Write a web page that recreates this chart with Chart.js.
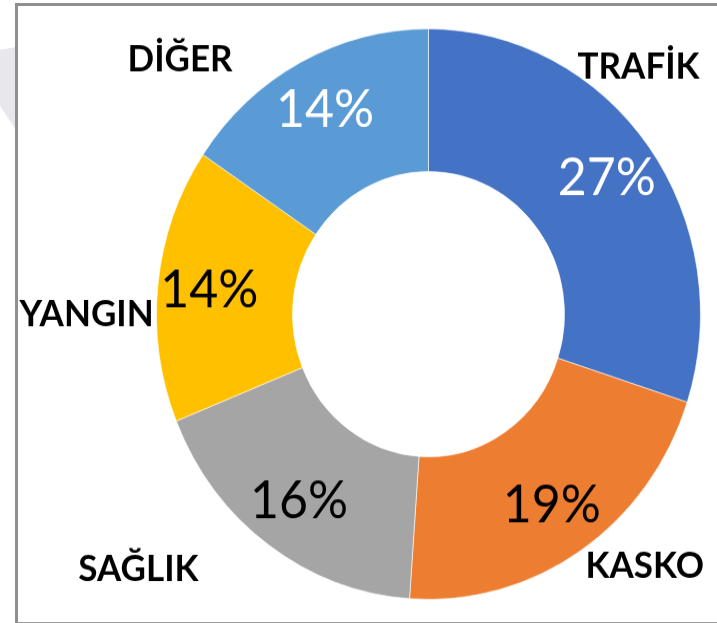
<!DOCTYPE html>
<html>
<head>
<meta charset="utf-8">
<script src="https://cdn.jsdelivr.net/npm/chart.js@4.4.1/dist/chart.umd.min.js"></script>
<style>
  html, body { margin: 0; padding: 0; background: #ffffff; overflow: hidden; }
  body { width: 717px; height: 623px; position: relative; }
  #mark { position: absolute; left: 0; top: 0; width: 16px; height: 140px; background: #e8e8ec;
          clip-path: polygon(0px 50px, 16px 47px, 16px 130px, 0px 106px); }
  #frame { position: absolute; left: 15px; top: 3px; width: 720px; height: 616px;
           border-left: 3px solid #8f8f8f; border-top: 3px solid #8f8f8f; border-bottom: 2px solid #9a9a9a; }
  #wrap { position: absolute; left: 0; top: 0; width: 717px; height: 594px;
          transform: scaleY(1.0488); transform-origin: 0 0; }
  canvas { display: block; }
</style>
</head>
<body>
<div id="mark"></div>
<div id="frame"></div>
<div id="wrap"><canvas id="c" width="717" height="594"></canvas></div>
<script>
// ---- data ----
const categories = ['TRAFİK', 'KASKO', 'SAĞLIK', 'YANGIN', 'DİĞER'];
const shares = [27, 19, 16, 14, 14];

// ---- styles ----
const sliceColors = ['#4472C4', '#ED7D31', '#A5A5A5', '#FFC000', '#5B9BD5'];
const valueLabelColors = ['#ffffff', '#000000', '#000000', '#000000', '#ffffff'];
// category label placement: angle (deg, clockwise from top) and distance as a multiple of the outer radius
const catLabelAngle = [41.7, 138, 230, 270, 314.3];
const catLabelDist = [1.161, 1.188, 1.392, 1.257, 1.276];

const labelPlugin = {
  id: 'sliceLabels',
  afterDatasetsDraw(chart) {
    const ctx = chart.ctx;
    const meta = chart.getDatasetMeta(0);
    ctx.save();
    ctx.textAlign = 'center';
    ctx.textBaseline = 'middle';
    meta.data.forEach((arc, i) => {
      const p = arc.getProps(['x', 'y', 'startAngle', 'endAngle', 'innerRadius', 'outerRadius'], true);
      const mid = (p.startAngle + p.endAngle) / 2;
      const r = p.outerRadius * 0.81;
      ctx.font = '50px Lato';
      ctx.fillStyle = valueLabelColors[i];
      ctx.fillText(shares[i] + '%', p.x + r * Math.cos(mid), p.y + r * Math.sin(mid));

      const a = (catLabelAngle[i] - 90) * Math.PI / 180;
      const rc = p.outerRadius * catLabelDist[i];
      ctx.font = 'bold 35px Lato';
      ctx.fillStyle = '#000000';
      ctx.fillText(categories[i], p.x + rc * Math.cos(a), p.y + rc * Math.sin(a));
    });
    ctx.restore();
  }
};

new Chart(document.getElementById('c'), {
  type: 'doughnut',
  data: {
    labels: categories,
    datasets: [{
      data: shares,
      backgroundColor: sliceColors,
      borderColor: '#ffffff',
      borderWidth: 0.6
    }]
  },
  options: {
    responsive: false,
    animation: false,
    devicePixelRatio: 1,
    radius: 272,
    cutout: '50%',
    layout: { padding: { left: 140, right: 0, top: 5, bottom: 0 } },
    plugins: {
      legend: { display: false },
      tooltip: { enabled: false }
    }
  },
  plugins: [labelPlugin]
});
</script>
</body>
</html>
